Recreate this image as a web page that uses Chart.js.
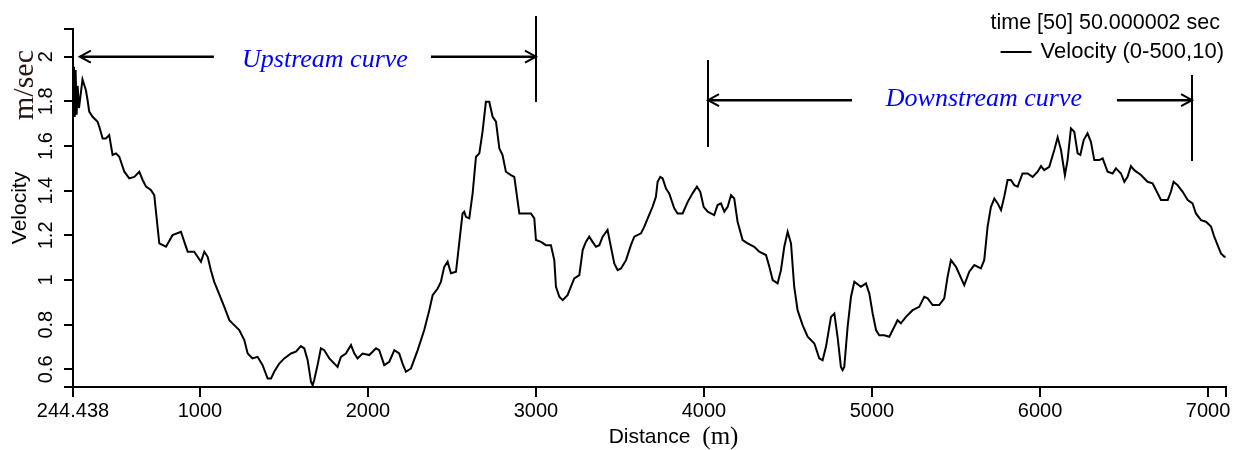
<!DOCTYPE html>
<html>
<head>
<meta charset="utf-8">
<script src="https://cdn.jsdelivr.net/npm/chart.js@4.4.1/dist/chart.umd.min.js"></script>
<style>
html,body{margin:0;padding:0;background:#fff;overflow:hidden;}
canvas{display:block;}
</style>
</head>
<body>
<canvas id="c" width="1243" height="450"></canvas>
<script>
// ---- data ----
const distance = [244.438,250,255,260,266,272,280,290,301,321,331,341,361,391,401,421,440,460,480,500,520,550,579,609,639,659,679,708,728,758,798,837,887,907,927,966,986,1006,1026,1046,1065,1085,1105,1145,1175,1204,1234,1264,1284,1313,1343,1373,1403,1423,1442,1472,1502,1542,1571,1601,1621,1641,1661,1671,1680,1700,1720,1740,1770,1819,1839,1869,1899,1919,1938,1968,2008,2048,2067,2097,2127,2157,2186,2206,2226,2256,2296,2335,2365,2385,2415,2434,2454,2474,2494,2524,2544,2563,2573,2583,2603,2623,2643,2663,2682,2702,2722,2742,2762,2782,2801,2821,2851,2871,2901,2930,2970,2990,3000,3030,3059,3089,3109,3119,3139,3159,3188,3208,3228,3258,3278,3297,3317,3337,3357,3377,3397,3426,3446,3466,3486,3506,3536,3565,3585,3625,3645,3665,3694,3714,3724,3740,3754,3774,3793,3823,3843,3873,3903,3932,3958,3978,3998,4022,4061,4081,4101,4121,4141,4161,4180,4200,4230,4260,4299,4329,4369,4389,4409,4438,4458,4478,4498,4518,4537,4557,4587,4617,4657,4686,4706,4726,4756,4776,4795,4815,4825,4835,4855,4875,4895,4934,4964,4984,5004,5024,5043,5073,5103,5133,5152,5172,5202,5242,5281,5311,5331,5361,5400,5430,5450,5470,5500,5549,5579,5609,5648,5668,5688,5708,5728,5748,5768,5787,5807,5827,5847,5867,5896,5926,5956,5986,6006,6025,6055,6085,6105,6125,6148,6164,6184,6204,6224,6240,6260,6283,6303,6323,6353,6373,6402,6432,6452,6482,6502,6521,6541,6561,6601,6640,6670,6690,6720,6760,6779,6795,6819,6849,6879,6908,6928,6958,6988,7018,7037,7057,7077,7097,7105];
const velocity = [1.74,1.955,1.73,1.94,1.74,1.87,1.77,1.83,1.898,1.851,1.806,1.754,1.731,1.709,1.686,1.634,1.634,1.649,1.560,1.567,1.552,1.485,1.455,1.462,1.485,1.448,1.418,1.403,1.380,1.164,1.149,1.201,1.216,1.171,1.127,1.127,1.104,1.082,1.127,1.104,1.044,0.992,0.955,0.880,0.820,0.798,0.776,0.731,0.671,0.649,0.656,0.619,0.559,0.559,0.589,0.626,0.649,0.671,0.679,0.704,0.694,0.641,0.544,0.529,0.552,0.619,0.694,0.686,0.649,0.611,0.656,0.671,0.709,0.671,0.649,0.671,0.664,0.694,0.686,0.619,0.634,0.686,0.671,0.626,0.589,0.604,0.686,0.776,0.865,0.932,0.962,0.992,1.059,1.082,1.030,1.037,1.171,1.298,1.306,1.283,1.276,1.388,1.552,1.567,1.664,1.798,1.798,1.731,1.709,1.589,1.560,1.485,1.470,1.462,1.298,1.298,1.298,1.276,1.179,1.171,1.156,1.156,1.089,0.970,0.925,0.910,0.932,0.970,1.007,1.022,1.134,1.171,1.194,1.171,1.149,1.156,1.194,1.224,1.149,1.074,1.044,1.052,1.089,1.156,1.194,1.209,1.239,1.276,1.328,1.373,1.440,1.462,1.455,1.410,1.388,1.321,1.298,1.298,1.350,1.388,1.418,1.395,1.328,1.306,1.291,1.336,1.343,1.306,1.328,1.380,1.365,1.261,1.179,1.164,1.149,1.127,1.112,1.059,1.000,0.985,1.044,1.149,1.216,1.164,0.970,0.865,0.798,0.746,0.716,0.649,0.641,0.701,0.835,0.850,0.746,0.611,0.597,0.611,0.791,0.925,0.992,0.970,0.985,0.940,0.850,0.776,0.753,0.753,0.746,0.791,0.820,0.806,0.835,0.865,0.880,0.925,0.918,0.888,0.888,0.918,1.015,1.089,1.059,0.977,1.037,1.067,1.052,1.089,1.239,1.328,1.365,1.343,1.313,1.373,1.448,1.448,1.425,1.418,1.477,1.477,1.462,1.485,1.510,1.492,1.507,1.582,1.639,1.582,1.470,1.537,1.679,1.664,1.567,1.560,1.627,1.657,1.619,1.537,1.537,1.545,1.485,1.477,1.500,1.477,1.440,1.462,1.510,1.492,1.470,1.440,1.433,1.403,1.358,1.358,1.395,1.440,1.425,1.395,1.358,1.343,1.298,1.268,1.261,1.239,1.194,1.156,1.119,1.104,1.104];

const xTickValues = [244.438,1000,2000,3000,4000,5000,6000,7000,7107];
const xTickLabels = ['244.438','1000','2000','3000','4000','5000','6000','7000',''];
const yTickValues = [0.521,0.6,0.8,1.0,1.2,1.4,1.6,1.8,2.0,2.124];
const yTickLabels = ['','0.6','0.8','1','1.2','1.4','1.6','1.8','2',''];

const seriesLabel = 'Velocity (0-500,10)';
const timeLabel = 'time [50] 50.000002 sec';
const xTitle = 'Distance';
const xUnit = '(m)';
const yTitle = 'Velocity';
const yUnit = 'm/sec';

// annotation spans (in data units)
const spanNames  = ['Upstream curve','Downstream curve'];
const spanStart  = [285, 4024];
const spanEnd    = [3000, 6905];
const gapStart   = [1083, 4881];
const gapEnd     = [2375, 6458];
const spanLevel  = [2.0, 1.805];
const textCenter = [1744, 5666];
const textLevel  = [1.954, 1.779];
const markerX      = [3000, 4024, 6905];
const markerTop    = [2.182, 1.985, 1.918];
const markerBottom = [1.797, 1.596, 1.533];

const SANS = "'Liberation Sans', Arial, sans-serif";
const SERIF = "'Liberation Serif', 'Times New Roman', serif";

const annotPlugin = {
  id: 'annot',
  afterDraw(chart) {
    const {ctx, scales} = chart;
    const x = scales.x, y = scales.y;
    ctx.save();
    // spans with arrows
    for (let i = 0; i < spanNames.length; i++) {
      const yy = y.getPixelForValue(spanLevel[i]);
      const x0 = x.getPixelForValue(spanStart[i]);
      const x1 = x.getPixelForValue(gapStart[i]);
      const x2 = x.getPixelForValue(gapEnd[i]);
      const x3 = x.getPixelForValue(spanEnd[i]);
      ctx.strokeStyle = '#000';
      ctx.lineWidth = 2.5;
      ctx.beginPath();
      ctx.moveTo(x0, yy); ctx.lineTo(x1, yy);
      ctx.moveTo(x2, yy); ctx.lineTo(x3, yy);
      ctx.stroke();
      ctx.lineWidth = 2;
      ctx.beginPath();
      ctx.moveTo(x0 + 11, yy - 6); ctx.lineTo(x0, yy); ctx.lineTo(x0 + 11, yy + 6);
      ctx.moveTo(x3 - 11, yy - 6); ctx.lineTo(x3, yy); ctx.lineTo(x3 - 11, yy + 6);
      ctx.stroke();
      ctx.fillStyle = '#0000ff';
      ctx.font = 'italic 26px ' + SERIF;
      ctx.textAlign = 'center';
      ctx.textBaseline = 'alphabetic';
      ctx.fillText(spanNames[i], x.getPixelForValue(textCenter[i]), y.getPixelForValue(textLevel[i]));
    }
    // vertical markers
    ctx.strokeStyle = '#000';
    ctx.lineWidth = 2;
    ctx.beginPath();
    for (let i = 0; i < markerX.length; i++) {
      const px = Math.round(x.getPixelForValue(markerX[i]));
      ctx.moveTo(px, y.getPixelForValue(markerTop[i]));
      ctx.lineTo(px, y.getPixelForValue(markerBottom[i]));
    }
    ctx.stroke();

    // y unit (serif, rotated)
    ctx.save();
    ctx.translate(33, 85);
    ctx.rotate(-Math.PI / 2);
    ctx.fillStyle = '#2a1410';
    ctx.font = '30px ' + SERIF;
    ctx.textAlign = 'center';
    ctx.textBaseline = 'alphabetic';
    ctx.fillText(yUnit, 0, 0);
    ctx.restore();

    // x unit next to title
    ctx.font = '21px ' + SANS;
    const tw = ctx.measureText(xTitle).width;
    const cx = (x.left + x.right) / 2;
    ctx.font = '25px ' + SERIF;
    ctx.fillStyle = '#000';
    ctx.textAlign = 'left';
    ctx.textBaseline = 'alphabetic';
    ctx.fillText(xUnit, cx + tw / 2 + 12, 444);

    // legend (top right)
    ctx.font = '21.5px ' + SANS;
    ctx.textAlign = 'right';
    ctx.textBaseline = 'middle';
    ctx.fillStyle = '#000';
    ctx.fillText(timeLabel, 1220, 23);
    ctx.font = '22px ' + SANS;
    ctx.fillText(chart.data.datasets[0].label, 1224, 52);
    const lw = ctx.measureText(chart.data.datasets[0].label).width;
    const lx = 1224 - lw - 9;
    ctx.strokeStyle = '#000';
    ctx.lineWidth = 2;
    ctx.beginPath();
    ctx.moveTo(lx - 31, 52); ctx.lineTo(lx, 52);
    ctx.stroke();
    ctx.restore();
  }
};

new Chart(document.getElementById('c'), {
  type: 'line',
  data: {
    datasets: [{
      label: seriesLabel,
      data: distance.map((d, i) => ({x: d, y: velocity[i]})),
      borderColor: '#000',
      borderWidth: 2,
      pointRadius: 0,
      tension: 0,
      fill: false
    }]
  },
  options: {
    responsive: false,
    animation: false,
    devicePixelRatio: 1,
    layout: {padding: {left: 0, right: 17, top: 29, bottom: 0}},
    plugins: {legend: {display: false}, tooltip: {enabled: false}, title: {display: false}},
    scales: {
      x: {
        type: 'linear',
        min: xTickValues[0],
        max: xTickValues[xTickValues.length - 1],
        afterBuildTicks: s => { s.ticks = xTickValues.map(v => ({value: v})); },
        afterFit: s => { s.height = 63; },
        ticks: {
          autoSkip: false, minRotation: 0, maxRotation: 0, padding: 2, color: '#000',
          font: {family: SANS, size: 20},
          callback: (v, i) => xTickLabels[i]
        },
        grid: {display: true, drawOnChartArea: false, drawTicks: true, tickLength: 10, color: '#000', lineWidth: 2},
        border: {display: true, color: '#000', width: 2},
        title: {display: true, text: xTitle, color: '#000', font: {family: SANS, size: 21}, padding: {top: 0, bottom: 0}}
      },
      y: {
        type: 'linear',
        min: yTickValues[0],
        max: yTickValues[yTickValues.length - 1],
        afterBuildTicks: s => { s.ticks = yTickValues.map(v => ({value: v})); },
        afterFit: s => { s.width = 73; },
        ticks: {
          autoSkip: false, minRotation: 90, maxRotation: 90, crossAlign: 'center', padding: 4, color: '#000',
          font: {family: SANS, size: 20},
          callback: (v, i) => yTickLabels[i]
        },
        grid: {display: true, drawOnChartArea: false, drawTicks: true, tickLength: 9, color: '#000', lineWidth: 2},
        border: {display: true, color: '#000', width: 2},
        title: {display: true, text: yTitle, color: '#000', font: {family: SANS, size: 21}, padding: {top: 8, bottom: 0}}
      }
    }
  },
  plugins: [annotPlugin]
});
</script>
</body>
</html>
